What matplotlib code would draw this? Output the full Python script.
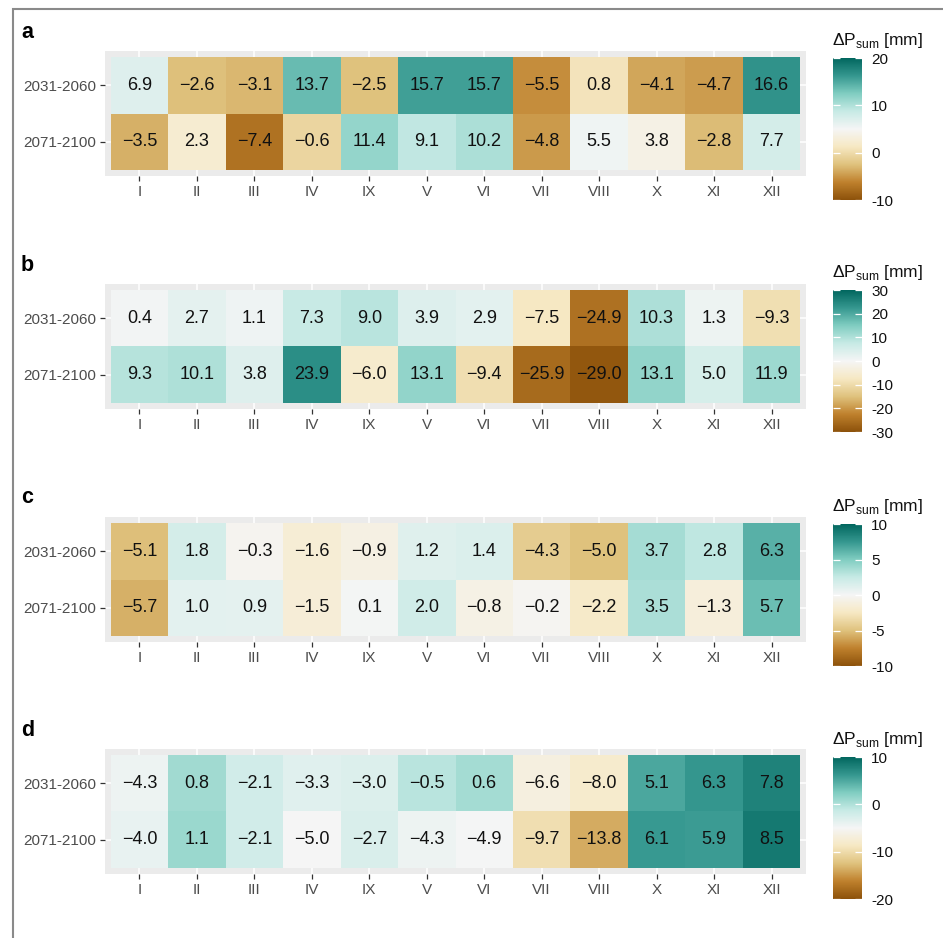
import numpy as np
import matplotlib
matplotlib.use("Agg")
import matplotlib.pyplot as plt
from matplotlib.colors import LinearSegmentedColormap, Normalize
from matplotlib.cm import ScalarMappable
from matplotlib.patches import Rectangle

plt.rcParams['font.family'] = ['Liberation Sans', 'DejaVu Sans']
plt.rcParams['mathtext.fontset'] = 'custom'
plt.rcParams['mathtext.rm'] = 'Liberation Sans'

months = ["I", "II", "III", "IV", "IX", "V", "VI", "VII", "VIII", "X", "XI", "XII"]
periods = ["2031-2060", "2071-2100"]

a_2031 = [6.9, -2.6, -3.1, 13.7, -2.5, 15.7, 15.7, -5.5, 0.8, -4.1, -4.7, 16.6]
a_2071 = [-3.5, 2.3, -7.4, -0.6, 11.4, 9.1, 10.2, -4.8, 5.5, 3.8, -2.8, 7.7]
b_2031 = [0.4, 2.7, 1.1, 7.3, 9.0, 3.9, 2.9, -7.5, -24.9, 10.3, 1.3, -9.3]
b_2071 = [9.3, 10.1, 3.8, 23.9, -6.0, 13.1, -9.4, -25.9, -29.0, 13.1, 5.0, 11.9]
c_2031 = [-5.1, 1.8, -0.3, -1.6, -0.9, 1.2, 1.4, -4.3, -5.0, 3.7, 2.8, 6.3]
c_2071 = [-5.7, 1.0, 0.9, -1.5, 0.1, 2.0, -0.8, -0.2, -2.2, 3.5, -1.3, 5.7]
d_2031 = [-4.3, 0.8, -2.1, -3.3, -3.0, -0.5, 0.6, -6.6, -8.0, 5.1, 6.3, 7.8]
d_2071 = [-4.0, 1.1, -2.1, -5.0, -2.7, -4.3, -4.9, -9.7, -13.8, 6.1, 5.9, 8.5]

panel_labels = ["a", "b", "c", "d"]
limits = [(-10, 20), (-30, 30), (-10, 10), (-20, 10)]
cbar_ticks = [[-10, 0, 10, 20], [-30, -20, -10, 0, 10, 20, 30],
              [-10, -5, 0, 5, 10], [-20, -10, 0, 10]]
panel_data = [(a_2031, a_2071), (b_2031, b_2071), (c_2031, c_2071), (d_2031, d_2071)]

brbg9 = ["#8c510a", "#bf812d", "#dfc27d", "#f6e8c3", "#f5f5f5",
         "#c7eae5", "#80cdc1", "#35978f", "#01665e"]
cmap = LinearSegmentedColormap.from_list("brbg9", brbg9, N=512)

W, H = 943, 938
fig = plt.figure(figsize=(W / 100, H / 100), dpi=100)


def rect(x0, y0, x1, y1):
    return [x0 / W, 1 - y1 / H, (x1 - x0) / W, (y1 - y0) / H]


# outer frame
fig.patches.append(Rectangle((13 / W, -0.1), 1.2, 1.1 - 9 / H, transform=fig.transFigure,
                             fill=False, edgecolor="#8a8a8a", lw=1.5, zorder=0))

panel_tops = [51, 284, 517, 749]
cbar_tops = [58, 290, 524, 757]
label_y = [32, 265, 497, 730]

for k in range(4):
    top = panel_tops[k]
    ax = fig.add_axes(rect(105, top, 806, top + 125))
    ax.set_facecolor("#EBEBEB")
    for s in ax.spines.values():
        s.set_visible(False)
    vmin, vmax = limits[k]
    norm = Normalize(vmin, vmax)
    data = np.array(panel_data[k])
    ax.set_xlim(-0.6, 11.6)
    ax.set_ylim(1.6, -0.6)
    ax.set_xticks(range(12))
    ax.set_xticklabels(months)
    ax.set_yticks(range(2))
    ax.set_yticklabels(periods)
    ax.grid(True, color="white", lw=1.1)
    ax.set_axisbelow(True)
    ax.pcolormesh(np.arange(13) - 0.5, np.arange(3) - 0.5, data, cmap=cmap, norm=norm,
                  zorder=2)
    for i in range(2):
        for j in range(12):
            ax.text(j, i, f"{data[i, j]:.1f}".replace("-", "\u2212"), ha="center",
                    va="center", fontsize=13, color="#111111", zorder=3)
    ax.tick_params(axis="both", colors="#333333", labelcolor="#4D4D4D", labelsize=11,
                   length=3.8, width=0.9, pad=2.5)

    fig.text(21 / W, 1 - label_y[k] / H, panel_labels[k], fontsize=15.5, fontweight="bold",
             ha="left", va="center")

    ct = cbar_tops[k]
    cax = fig.add_axes(rect(833, ct, 862, ct + 142))
    sm = ScalarMappable(norm=norm, cmap=cmap)
    cb = fig.colorbar(sm, cax=cax, ticks=cbar_ticks[k])
    cb.outline.set_visible(False)
    cax.set_yticklabels([str(t) for t in cbar_ticks[k]])
    cax.tick_params(axis="y", direction="in", left=True, right=True, color="white",
                    length=5, width=0.9, labelsize=11, labelcolor="#111111", pad=6.5)
    fig.text(832 / W, 1 - (ct - 18) / H, "\u0394P$_{\\mathrm{sum}}$ [mm]", fontsize=12.5,
             ha="left", va="center", color="#111111")

fig.savefig("out.png", dpi=100)
